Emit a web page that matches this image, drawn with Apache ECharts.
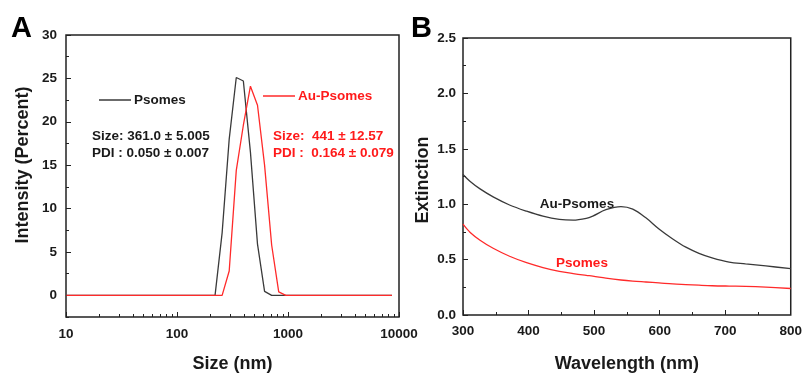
<!DOCTYPE html>
<html><head><meta charset="utf-8">
<script src="https://cdn.jsdelivr.net/npm/echarts@6/dist/echarts.min.js"></script>
<style>html,body{margin:0;padding:0;background:#fff}#c{width:805px;height:378px}</style>
</head><body><div id="c"></div>
<script>
// ---- Panel A: DLS size distribution ----
const sizeBins = [10.1, 220.2, 255.0, 295.3, 342.0, 396.1, 458.7, 531.2, 615.1, 712.4, 825.0, 955.4, 8635];
const psomesIntensity = [0, 0, 7.2, 18.0, 25.1, 24.7, 16.5, 5.9, 0.45, 0, 0, 0, 0];
const auPsomesIntensity = [0, 0, 0, 2.8, 14.4, 19.6, 24.1, 21.9, 15.0, 5.8, 0.4, 0, 0];
const sizeMajorTicks = [10, 100, 1000, 10000];
const sizeMinorTicks = [20,30,40,50,60,70,80,90,200,300,400,500,600,700,800,900,2000,3000,4000,5000,6000,7000,8000,9000];
const intensityTicks = [0, 5, 10, 15, 20, 25, 30];

// ---- Panel B: extinction spectra ----
const wavelengths = [300, 311, 326, 346, 371, 397, 422, 447, 468, 488, 498, 518, 541, 559, 579, 599, 620, 640, 660, 680, 706, 731, 762, 800];
const auPsomesExt = [1.268, 1.205, 1.138, 1.066, 0.993, 0.937, 0.892, 0.863, 0.856, 0.872, 0.893, 0.950, 0.979, 0.956, 0.877, 0.776, 0.686, 0.612, 0.557, 0.516, 0.478, 0.462, 0.443, 0.418];
const psomesExt = [0.820, 0.745, 0.675, 0.602, 0.530, 0.472, 0.428, 0.394, 0.374, 0.358, 0.351, 0.333, 0.316, 0.306, 0.298, 0.290, 0.281, 0.275, 0.269, 0.264, 0.261, 0.259, 0.252, 0.239];

const FONT = "'Liberation Sans', Arial, sans-serif";
const BLACK = '#3a3a3a', RED = '#ff2a2a', TXT = '#1a1a1a', TXTRED = '#ff1a1a';
const lbl = {fontFamily: FONT, fontWeight: 'bold', fontSize: 13.5, color: TXT};
const tickStyle = {color: '#222', width: 1};

const chart = echarts.init(document.getElementById('c'), null, {renderer: 'canvas'});
const pair = (xs, ys) => xs.map((x, i) => [x, ys[i]]);

chart.setOption({
  animation: false,
  backgroundColor: '#fff',
  grid: [
    {left: 66, top: 35, width: 333, height: 292, show: true, borderColor: '#222', borderWidth: 1.5, backgroundColor: 'transparent'},
    {left: 463, top: 38, width: 329, height: 288, show: true, borderColor: '#222', borderWidth: 1.5, backgroundColor: 'transparent'}
  ],
  xAxis: [
    {type: 'log', gridIndex: 0, min: 10, max: 10000, logBase: 10, position: 'bottom',
     axisLine: {show: false, onZero: false}, splitLine: {show: false},
     axisTick: {inside: true, length: 5, lineStyle: tickStyle, customValues: sizeMajorTicks},
     axisLabel: Object.assign({margin: 10, customValues: sizeMajorTicks, formatter: v => String(Math.round(v))}, lbl),
     name: 'Size (nm)', nameLocation: 'middle', nameGap: 38,
     nameTextStyle: {fontFamily: FONT, fontWeight: 'bold', fontSize: 18, color: TXT}},
    {type: 'log', gridIndex: 0, min: 10, max: 10000, logBase: 10, position: 'bottom',
     axisLine: {show: false, onZero: false}, splitLine: {show: false}, axisLabel: {show: false},
     axisTick: {inside: true, length: 3, lineStyle: tickStyle, customValues: sizeMinorTicks}},
    {type: 'value', gridIndex: 1, min: 300, max: 800, interval: 100, position: 'bottom',
     axisLine: {show: false, onZero: false}, splitLine: {show: false},
     axisTick: {inside: true, length: 5, lineStyle: tickStyle},
     minorTick: {show: true, splitNumber: 2, length: 3, lineStyle: tickStyle},
     axisLabel: Object.assign({margin: 9}, lbl),
     name: 'Wavelength (nm)', nameLocation: 'middle', nameGap: 40,
     nameTextStyle: {fontFamily: FONT, fontWeight: 'bold', fontSize: 18, color: TXT}}
  ],
  yAxis: [
    {type: 'value', gridIndex: 0, min: -2.5, max: 30, position: 'left',
     axisLine: {show: false, onZero: false}, splitLine: {show: false},
     axisTick: {inside: true, length: 5, lineStyle: tickStyle, customValues: intensityTicks},
     axisLabel: Object.assign({margin: 9, customValues: intensityTicks}, lbl)},
    {type: 'value', gridIndex: 0, min: -2.5, max: 30, interval: 2.5, position: 'left',
     axisLine: {show: false, onZero: false}, splitLine: {show: false}, axisLabel: {show: false},
     axisTick: {inside: true, length: 3, lineStyle: tickStyle}},
    {type: 'value', gridIndex: 1, min: 0, max: 2.5, interval: 0.5, position: 'left',
     axisLine: {show: false, onZero: false}, splitLine: {show: false},
     axisTick: {inside: true, length: 5, lineStyle: tickStyle},
     minorTick: {show: true, splitNumber: 2, length: 3, lineStyle: tickStyle},
     axisLabel: Object.assign({margin: 7, formatter: v => v.toFixed(1)}, lbl)}
  ],
  legend: [
    {data: ['Psomes'], left: 99, top: 93, padding: 0, icon: 'rect', itemWidth: 32, itemHeight: 1.5, itemGap: 0,
     textStyle: {fontFamily: FONT, fontWeight: 'bold', fontSize: 13.5, color: TXT, padding: [0,0,0,-2]}},
    {data: ['Au-Psomes'], left: 263, top: 89, padding: 0, icon: 'rect', itemWidth: 32, itemHeight: 1.5, itemGap: 0,
     textStyle: {fontFamily: FONT, fontWeight: 'bold', fontSize: 13.5, color: TXTRED, padding: [0,0,0,-2]}}
  ],
  series: [
    {name: 'Psomes', type: 'line', xAxisIndex: 0, yAxisIndex: 0, symbol: 'none',
     data: pair(sizeBins, psomesIntensity), lineStyle: {color: BLACK, width: 1.3}, itemStyle: {color: BLACK}},
    {name: 'Au-Psomes', type: 'line', xAxisIndex: 0, yAxisIndex: 0, symbol: 'none',
     data: pair(sizeBins, auPsomesIntensity), lineStyle: {color: RED, width: 1.3}, itemStyle: {color: RED}},
    {name: 'Au-Psomes extinction', type: 'line', xAxisIndex: 2, yAxisIndex: 2, symbol: 'none', smooth: 0.35,
     data: pair(wavelengths, auPsomesExt), lineStyle: {color: BLACK, width: 1.3}},
    {name: 'Psomes extinction', type: 'line', xAxisIndex: 2, yAxisIndex: 2, symbol: 'none', smooth: 0.35,
     data: pair(wavelengths, psomesExt), lineStyle: {color: RED, width: 1.3}}
  ],
  graphic: [
    {type: 'text', left: 11, top: 14, style: {text: 'A', font: "bold 29px " + FONT, fill: '#000'}},
    {type: 'text', left: 411, top: 14, style: {text: 'B', font: "bold 29px " + FONT, fill: '#000'}},
    {type: 'text', x: 23, y: 165, rotation: Math.PI / 2, style: {text: 'Intensity (Percent)', font: "bold 18px " + FONT, fill: TXT, align: 'center', verticalAlign: 'middle'}},
    {type: 'text', x: 423, y: 180, rotation: Math.PI / 2, style: {text: 'Extinction', font: "bold 18px " + FONT, fill: TXT, align: 'center', verticalAlign: 'middle'}},
    {type: 'text', x: 92, y: 136, style: {text: 'Size: 361.0 ± 5.005', font: "bold 13.5px " + FONT, fill: TXT, verticalAlign: 'middle'}},
    {type: 'text', x: 92, y: 153, style: {text: 'PDI : 0.050 ± 0.007', font: "bold 13.5px " + FONT, fill: TXT, verticalAlign: 'middle'}},
    {type: 'text', x: 273, y: 136, style: {text: 'Size:  441 ± 12.57', font: "bold 13.5px " + FONT, fill: TXTRED, verticalAlign: 'middle'}},
    {type: 'text', x: 273, y: 153, style: {text: 'PDI :  0.164 ± 0.079', font: "bold 13.5px " + FONT, fill: TXTRED, verticalAlign: 'middle'}},
    {type: 'text', x: 577, y: 204, style: {text: 'Au-Psomes', font: "bold 13.5px " + FONT, fill: TXT, align: 'center', verticalAlign: 'middle'}},
    {type: 'text', x: 582, y: 263, style: {text: 'Psomes', font: "bold 13.5px " + FONT, fill: TXTRED, align: 'center', verticalAlign: 'middle'}}
  ]
});
</script></body></html>
